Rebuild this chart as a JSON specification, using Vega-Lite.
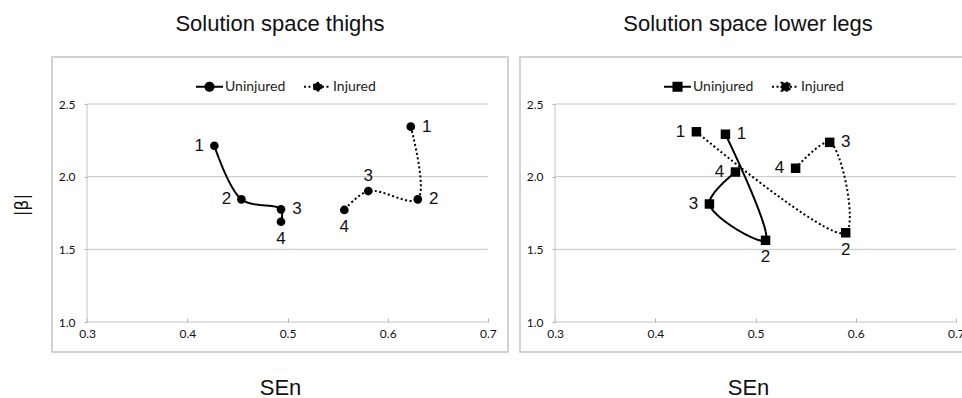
{
  "$schema": "https://vega.github.io/schema/vega-lite/v6.json",
  "background": "white",
  "padding": {"left": 12, "top": 12, "right": 0, "bottom": 0},
  "spacing": 10,
  "config": {
    "view": {"stroke": "#c4c4c4", "strokeWidth": 1.5},
    "font": "Liberation Sans",
    "title": {"font": "Liberation Sans", "fontSize": 22, "fontWeight": "normal", "color": "#111", "anchor": "middle", "offset": 21}
  },
  "datasets": {
    "pts": [
      {"panel": "thighs", "group": "Uninjured", "step": 1, "sen": 0.427, "beta": 2.213},
      {"panel": "thighs", "group": "Uninjured", "step": 2, "sen": 0.454, "beta": 1.844},
      {"panel": "thighs", "group": "Uninjured", "step": 3, "sen": 0.4935, "beta": 1.775},
      {"panel": "thighs", "group": "Uninjured", "step": 4, "sen": 0.4935, "beta": 1.69},
      {"panel": "thighs", "group": "Injured", "step": 1, "sen": 0.623, "beta": 2.344},
      {"panel": "thighs", "group": "Injured", "step": 2, "sen": 0.63, "beta": 1.844},
      {"panel": "thighs", "group": "Injured", "step": 3, "sen": 0.5806, "beta": 1.901},
      {"panel": "thighs", "group": "Injured", "step": 4, "sen": 0.5567, "beta": 1.771},
      {"panel": "legs", "group": "Uninjured", "step": 1, "sen": 0.47, "beta": 2.292},
      {"panel": "legs", "group": "Uninjured", "step": 2, "sen": 0.51, "beta": 1.562},
      {"panel": "legs", "group": "Uninjured", "step": 3, "sen": 0.454, "beta": 1.812},
      {"panel": "legs", "group": "Uninjured", "step": 4, "sen": 0.48, "beta": 2.032},
      {"panel": "legs", "group": "Injured", "step": 1, "sen": 0.441, "beta": 2.309},
      {"panel": "legs", "group": "Injured", "step": 2, "sen": 0.59, "beta": 1.614},
      {"panel": "legs", "group": "Injured", "step": 3, "sen": 0.574, "beta": 2.236},
      {"panel": "legs", "group": "Injured", "step": 4, "sen": 0.54, "beta": 2.058}
    ],
    "grid": [{"g": 1.0}, {"g": 1.5}, {"g": 2.0}, {"g": 2.5}]
  },
  "resolve": {"scale": {"strokeDash": "independent"}, "legend": {"strokeDash": "independent"}},
  "hconcat": [
    {
      "title": "Solution space thighs",
      "width": 456,
      "height": 295,
      "layer": [
        {
          "data": {"name": "grid"},
          "mark": {"type": "rule", "color": "#c4c4c4", "strokeWidth": 1},
          "encoding": {
            "y": {"field": "g", "type": "quantitative", "scale": {"domain": [0.7936, 2.8234], "nice": false, "zero": false},
              "axis": {"title": "|β|", "values": [1.0, 1.5, 2.0, 2.5], "format": ".1f", "domain": false, "grid": false, "offset": -35, "tickSize": 3, "tickColor": "#b0b0b0", "labelFont": "Lato", "labelFontSize": 12, "labelColor": "#111", "labelPadding": 9, "labelFlush": false, "labelOverlap": false, "titleFont": "DejaVu Sans", "titleFontSize": 17, "titleFontWeight": "normal", "titleColor": "#111", "titlePadding": 27}},
            "x": {"datum": 0.3, "type": "quantitative", "scale": {"domain": [0.265, 0.72], "nice": false, "zero": false},
              "axis": {"title": "SEn", "values": [0.3, 0.4, 0.5, 0.6, 0.7], "format": ".1f", "domain": false, "grid": false, "offset": -30, "tickSize": -4, "tickColor": "#b0b0b0", "labelFont": "Lato", "labelFontSize": 12, "labelColor": "#111", "labelPadding": 10, "labelFlush": false, "labelOverlap": false, "titleFont": "Liberation Sans", "titleFontSize": 22, "titleFontWeight": "normal", "titleColor": "#111", "titlePadding": 38}},
            "x2": {"datum": 0.7}
          }
        },
        {
          "data": {"name": "grid"},
          "transform": [{"filter": "datum.g === 1"}],
          "mark": {"type": "rule", "color": "#c4c4c4", "strokeWidth": 1},
          "encoding": {
            "x": {"datum": 0.3, "type": "quantitative", "title": "SEn"},
            "y": {"datum": 1.0, "type": "quantitative", "title": "|β|"},
            "y2": {"datum": 2.5}
          }
        },
        {
          "data": {"name": "pts"},
          "transform": [{"filter": "datum.panel === 'thighs'"}],
          "mark": {"type": "line", "interpolate": "catmull-rom", "strokeWidth": 2, "color": "black"},
          "encoding": {
            "x": {"field": "sen", "type": "quantitative", "title": "SEn"},
            "y": {"field": "beta", "type": "quantitative", "title": "|β|"},
            "order": {"field": "step", "type": "quantitative"},
            "strokeDash": {"field": "group", "type": "nominal",
              "scale": {"domain": ["Uninjured", "Injured"], "range": [[1, 0], [2, 2.5]]},
              "legend": {"orient": "none", "legendX": 143, "legendY": 15, "direction": "horizontal", "title": null,
                "symbolType": "M-1,0H1M0.3,0A0.3,0.3,0,1,1,-0.3,0A0.3,0.3,0,1,1,0.3,0Z",
                "symbolSize": 729, "symbolStrokeWidth": 2, "symbolStrokeColor": "black", "symbolFillColor": "black", "symbolOpacity": 1,
                "labelFont": "Lato", "labelFontSize": 14, "labelColor": "#222", "labelOffset": 1, "columnPadding": 14}}
          }
        },
        {
          "data": {"name": "pts"},
          "transform": [{"filter": "datum.panel === 'thighs'"}],
          "mark": {"type": "point", "shape": "circle", "filled": true, "size": 75, "color": "black", "opacity": 1},
          "encoding": {
            "x": {"field": "sen", "type": "quantitative", "title": "SEn"},
            "y": {"field": "beta", "type": "quantitative", "title": "|β|"}
          }
        },
        {
          "data": {"name": "pts"},
          "transform": [{"filter": "datum.panel === 'thighs' && indexof(['Uninjured3','Injured1','Injured2'], datum.group + datum.step) >= 0"}],
          "mark": {"type": "text", "dx": 16, "fontSize": 17, "color": "#111", "font": "Liberation Sans"},
          "encoding": {"x": {"field": "sen", "type": "quantitative", "title": "SEn"}, "y": {"field": "beta", "type": "quantitative", "title": "|β|"}, "text": {"field": "step", "type": "nominal"}}
        },
        {
          "data": {"name": "pts"},
          "transform": [{"filter": "datum.panel === 'thighs' && indexof(['Uninjured1','Uninjured2'], datum.group + datum.step) >= 0"}],
          "mark": {"type": "text", "dx": -15, "fontSize": 17, "color": "#111", "font": "Liberation Sans"},
          "encoding": {"x": {"field": "sen", "type": "quantitative", "title": "SEn"}, "y": {"field": "beta", "type": "quantitative", "title": "|β|"}, "text": {"field": "step", "type": "nominal"}}
        },
        {
          "data": {"name": "pts"},
          "transform": [{"filter": "datum.panel === 'thighs' && indexof(['Injured3'], datum.group + datum.step) >= 0"}],
          "mark": {"type": "text", "dy": -15, "fontSize": 17, "color": "#111", "font": "Liberation Sans"},
          "encoding": {"x": {"field": "sen", "type": "quantitative", "title": "SEn"}, "y": {"field": "beta", "type": "quantitative", "title": "|β|"}, "text": {"field": "step", "type": "nominal"}}
        },
        {
          "data": {"name": "pts"},
          "transform": [{"filter": "datum.panel === 'thighs' && indexof(['Uninjured4','Injured4'], datum.group + datum.step) >= 0"}],
          "mark": {"type": "text", "dy": 17, "fontSize": 17, "color": "#111", "font": "Liberation Sans"},
          "encoding": {"x": {"field": "sen", "type": "quantitative", "title": "SEn"}, "y": {"field": "beta", "type": "quantitative", "title": "|β|"}, "text": {"field": "step", "type": "nominal"}}
        }
      ]
    },
    {
      "title": "Solution space lower legs",
      "width": 456,
      "height": 295,
      "layer": [
        {
          "data": {"name": "grid"},
          "mark": {"type": "rule", "color": "#c4c4c4", "strokeWidth": 1},
          "encoding": {
            "y": {"field": "g", "type": "quantitative", "scale": {"domain": [0.7936, 2.8234], "nice": false, "zero": false},
              "axis": {"title": null, "values": [1.0, 1.5, 2.0, 2.5], "format": ".1f", "domain": false, "grid": false, "offset": -35, "tickSize": 3, "tickColor": "#b0b0b0", "labelFont": "Lato", "labelFontSize": 12, "labelColor": "#111", "labelPadding": 9, "labelFlush": false, "labelOverlap": false}},
            "x": {"datum": 0.3, "type": "quantitative", "scale": {"domain": [0.265, 0.72], "nice": false, "zero": false},
              "axis": {"title": "SEn", "values": [0.3, 0.4, 0.5, 0.6, 0.7], "format": ".1f", "domain": false, "grid": false, "offset": -30, "tickSize": -4, "tickColor": "#b0b0b0", "labelFont": "Lato", "labelFontSize": 12, "labelColor": "#111", "labelPadding": 10, "labelFlush": false, "labelOverlap": false, "titleFont": "Liberation Sans", "titleFontSize": 22, "titleFontWeight": "normal", "titleColor": "#111", "titlePadding": 38}},
            "x2": {"datum": 0.7}
          }
        },
        {
          "data": {"name": "grid"},
          "transform": [{"filter": "datum.g === 1"}],
          "mark": {"type": "rule", "color": "#c4c4c4", "strokeWidth": 1},
          "encoding": {
            "x": {"datum": 0.3, "type": "quantitative", "title": "SEn"},
            "y": {"datum": 1.0, "type": "quantitative", "title": null},
            "y2": {"datum": 2.5}
          }
        },
        {
          "data": {"name": "pts"},
          "transform": [{"filter": "datum.panel === 'legs'"}],
          "mark": {"type": "line", "interpolate": "catmull-rom", "strokeWidth": 2, "color": "black"},
          "encoding": {
            "x": {"field": "sen", "type": "quantitative", "title": "SEn"},
            "y": {"field": "beta", "type": "quantitative", "title": null},
            "order": {"field": "step", "type": "quantitative"},
            "strokeDash": {"field": "group", "type": "nominal",
              "scale": {"domain": ["Uninjured", "Injured"], "range": [[1, 0], [2, 2.5]]},
              "legend": {"orient": "none", "legendX": 143, "legendY": 15, "direction": "horizontal", "title": null,
                "symbolType": "M-1,0H1M-0.3,-0.3H0.3V0.3H-0.3Z",
                "symbolSize": 729, "symbolStrokeWidth": 2, "symbolStrokeColor": "black", "symbolFillColor": "black", "symbolOpacity": 1,
                "labelFont": "Lato", "labelFontSize": 14, "labelColor": "#222", "labelOffset": 1, "columnPadding": 14}}
          }
        },
        {
          "data": {"name": "pts"},
          "transform": [{"filter": "datum.panel === 'legs'"}],
          "mark": {"type": "point", "shape": "square", "filled": true, "size": 90, "color": "black", "opacity": 1},
          "encoding": {
            "x": {"field": "sen", "type": "quantitative", "title": "SEn"},
            "y": {"field": "beta", "type": "quantitative", "title": null}
          }
        },
        {
          "data": {"name": "pts"},
          "transform": [{"filter": "datum.panel === 'legs' && indexof(['Uninjured1','Injured3'], datum.group + datum.step) >= 0"}],
          "mark": {"type": "text", "dx": 16, "fontSize": 17, "color": "#111", "font": "Liberation Sans"},
          "encoding": {"x": {"field": "sen", "type": "quantitative", "title": "SEn"}, "y": {"field": "beta", "type": "quantitative", "title": null}, "text": {"field": "step", "type": "nominal"}}
        },
        {
          "data": {"name": "pts"},
          "transform": [{"filter": "datum.panel === 'legs' && indexof(['Uninjured3','Uninjured4','Injured1','Injured4'], datum.group + datum.step) >= 0"}],
          "mark": {"type": "text", "dx": -16, "fontSize": 17, "color": "#111", "font": "Liberation Sans"},
          "encoding": {"x": {"field": "sen", "type": "quantitative", "title": "SEn"}, "y": {"field": "beta", "type": "quantitative", "title": null}, "text": {"field": "step", "type": "nominal"}}
        },
        {
          "data": {"name": "pts"},
          "transform": [{"filter": "datum.panel === 'legs' && indexof(['Uninjured2','Injured2'], datum.group + datum.step) >= 0"}],
          "mark": {"type": "text", "dy": 17, "fontSize": 17, "color": "#111", "font": "Liberation Sans"},
          "encoding": {"x": {"field": "sen", "type": "quantitative", "title": "SEn"}, "y": {"field": "beta", "type": "quantitative", "title": null}, "text": {"field": "step", "type": "nominal"}}
        }
      ]
    }
  ]
}
